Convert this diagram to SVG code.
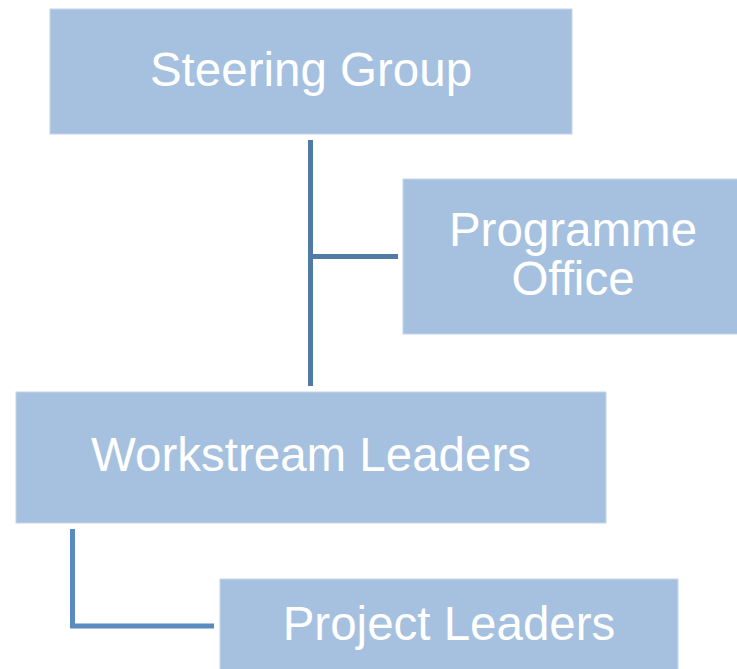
<svg xmlns="http://www.w3.org/2000/svg" width="737" height="669" viewBox="0 0 737 669">
<style>
.box{fill:#A6C1DF;stroke:#C3D5EA;stroke-width:1}
.lbl{fill:#FFFFFF;font-family:"Liberation Sans",Arial,sans-serif;font-size:47.5px;text-anchor:middle}
.c1{stroke:#4F7BA6;stroke-width:5;fill:none}
.c2{stroke:#5A8BBF;stroke-width:5;fill:none}
</style>
<rect width="737" height="669" fill="#FFFFFF"/>
<g id="connectors">
<line class="c1" x1="310.5" y1="140" x2="310.5" y2="386"/>
<line class="c1" x1="310.5" y1="256.5" x2="398" y2="256.5"/>
<polyline class="c2" points="72.5,529 72.5,626 214,626"/>
</g>
<g id="steering-group">
<rect class="box" x="50" y="9" width="522" height="125"/>
<text class="lbl" x="311" y="86">Steering Group</text>
</g>
<g id="programme-office">
<rect class="box" x="403" y="179" width="340" height="155"/>
<text class="lbl" x="573" y="246">Programme</text>
<text class="lbl" x="573" y="295">Office</text>
</g>
<g id="workstream-leaders">
<rect class="box" x="16" y="392" width="590" height="131"/>
<text class="lbl" x="311" y="471">Workstream Leaders</text>
</g>
<g id="project-leaders">
<rect class="box" x="220" y="579" width="458" height="100"/>
<text class="lbl" x="449" y="640">Project Leaders</text>
</g>
</svg>
